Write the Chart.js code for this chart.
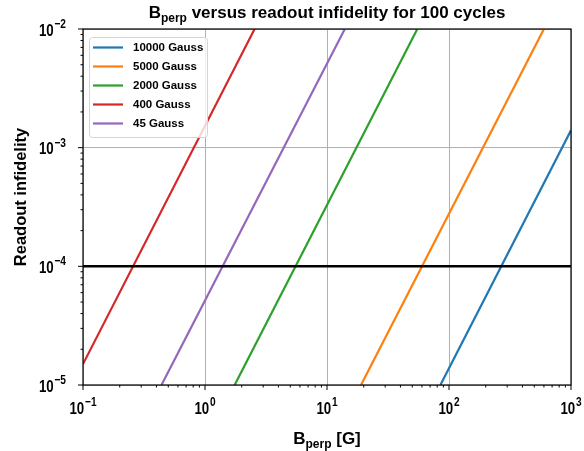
<!DOCTYPE html>
<html>
<head>
<meta charset="utf-8">
<script src="https://cdn.jsdelivr.net/npm/chart.js@4"></script>
<style>
  html, body { margin: 0; padding: 0; background: #fff; }
  #wrap { width: 584px; height: 451px; }
</style>
</head>
<body>
<div id="wrap"><canvas id="bperpChart" width="584" height="451"></canvas></div>
<script>
// field strengths and the two end points of each infidelity line
const fieldLabels = ["10000 Gauss", "5000 Gauss", "2000 Gauss", "400 Gauss", "45 Gauss"];
const bStart = [85, 19, 1.75, 0.1, 0.44];
const bEnd = [1000, 600, 55, 2.55, 14];
const infidelityStart = [1e-5, 1e-5, 1e-5, 1.5e-5, 1e-5];
const infidelityEnd = [1.4e-3, 1e-2, 1e-2, 1e-2, 1e-2];
const threshold = 1e-4;
const xRange = [0.1, 1000];
const yRange = [1e-5, 1e-2];
const xTickValues = [0.1, 1, 10, 100, 1000];
const yTickValues = [1e-5, 1e-4, 1e-3, 1e-2];

const lineColors = ["#1f77b4", "#ff7f0e", "#2ca02c", "#d62728", "#9467bd"];
const FONT = '"Liberation Sans", Arial, sans-serif';

function isDecade(v){
    const l = Math.log10(v);
    return Math.abs(l - Math.round(l)) < 1e-6;
}

// draws a run of text pieces (base, sub/superscripts) as one label
function drawParts(ctx, parts, x, y, align, sx){
    ctx.save();
    ctx.translate(x, y);
    ctx.scale(sx || 1, 1);
    let w = 0;
    parts.forEach(p=>{
        ctx.font = `bold ${p.size}px ${FONT}`;
        p.w = ctx.measureText(p.text).width + (p.gap || 0);
        w += p.w;
    });
    let cx = align === "center" ? -w/2 : align === "right" ? -w : 0;
    ctx.textAlign = "left";
    ctx.textBaseline = "alphabetic";
    ctx.fillStyle = "#000";
    parts.forEach(p=>{
        ctx.font = `bold ${p.size}px ${FONT}`;
        ctx.fillText(p.text, cx, p.dy || 0);
        cx += p.w;
    });
    ctx.restore();
}

function powerParts(v){
    const e = Math.round(Math.log10(v));
    const sup = e < 0 ? "\u2212" + Math.abs(e) : String(e);
    return [
        { text: "10", size: 17, gap: 1 },
        { text: sup, size: 13, dy: -7.5 }
    ];
}

function minorValues(min, max){
    const out = [];
    for(let e = Math.floor(Math.log10(min)); e <= Math.ceil(Math.log10(max)); e++){
        for(let m = 1; m <= 9; m++){
            const v = m * Math.pow(10, e);
            if(v >= min * 0.999 && v <= max * 1.001) out.push(v);
        }
    }
    return out;
}

const axisDecor = {
    id: "axisDecor",
    afterDatasetsDraw(chart){
        const { ctx, chartArea: a, scales: { x, y } } = chart;
        ctx.save();

        // frame
        ctx.strokeStyle = "#000";
        ctx.lineWidth = 1.2;
        ctx.strokeRect(a.left, a.top, a.right - a.left, a.bottom - a.top);

        // outward ticks
        ctx.lineWidth = 1;
        minorValues(xRange[0], xRange[1]).forEach(v=>{
            const px = x.getPixelForValue(v);
            const len = isDecade(v) ? 5 : 2.5;
            ctx.beginPath();
            ctx.moveTo(px, a.bottom);
            ctx.lineTo(px, a.bottom + len);
            ctx.stroke();
        });
        minorValues(yRange[0], yRange[1]).forEach(v=>{
            const py = y.getPixelForValue(v);
            const len = isDecade(v) ? 5 : 2.5;
            ctx.beginPath();
            ctx.moveTo(a.left, py);
            ctx.lineTo(a.left - len, py);
            ctx.stroke();
        });

        // tick labels
        xTickValues.forEach(v=>{
            drawParts(ctx, powerParts(v), x.getPixelForValue(v), a.bottom + 28.5, "center", 0.78);
        });
        yTickValues.forEach(v=>{
            drawParts(ctx, powerParts(v), a.left - 17, y.getPixelForValue(v) + 6.5, "right", 0.78);
        });

        // title
        drawParts(ctx, [
            { text: "B", size: 17 },
            { text: "perp", size: 12, dy: 4 },
            { text: " versus readout infidelity for 100 cycles", size: 17 }
        ], (a.left + a.right)/2, 18, "center", 1);

        // axis titles
        drawParts(ctx, [
            { text: "B", size: 17 },
            { text: "perp", size: 12, dy: 4 },
            { text: " [G]", size: 17 }
        ], (a.left + a.right)/2, 444, "center", 1);

        ctx.save();
        ctx.translate(26, 197);
        ctx.rotate(-Math.PI/2);
        drawParts(ctx, [{ text: "Readout infidelity", size: 16.5 }], 0, 0, "center", 1);
        ctx.restore();

        // legend
        const lx = 89, ly = 37, lw = 118, lh = 100;
        ctx.beginPath();
        ctx.roundRect(lx + 0.5, ly + 0.5, lw, lh, 3);
        ctx.fillStyle = "rgba(255,255,255,0.8)";
        ctx.fill();
        ctx.strokeStyle = "#d4d4d4";
        ctx.lineWidth = 1;
        ctx.stroke();
        fieldLabels.forEach((name, i)=>{
            const ey = 47.5 + i * 19;
            ctx.strokeStyle = lineColors[i];
            ctx.lineWidth = 2.2;
            ctx.beginPath();
            ctx.moveTo(93, ey);
            ctx.lineTo(123, ey);
            ctx.stroke();
            ctx.fillStyle = "#000";
            ctx.font = `bold 11.5px ${FONT}`;
            ctx.textAlign = "left";
            ctx.textBaseline = "middle";
            ctx.fillText(name, 133, ey + 0.5);
        });

        ctx.restore();
    }
};

const datasets = [{
    label: "threshold",
    data: [{ x: xRange[0], y: threshold }, { x: xRange[1], y: threshold }],
    borderColor: "#000",
    borderWidth: 2.5
}];
fieldLabels.forEach((name, i)=>{
    datasets.push({
        label: name,
        data: [{ x: bStart[i], y: infidelityStart[i] }, { x: bEnd[i], y: infidelityEnd[i] }],
        borderColor: lineColors[i],
        borderWidth: 2.2
    });
});

new Chart(document.getElementById("bperpChart"), {
    type: "line",
    data: { datasets },
    options: {
        responsive: false,
        animation: false,
        devicePixelRatio: 1,
        layout: { padding: { top: 29, right: 13, left: 0, bottom: 0 } },
        elements: { point: { radius: 0 }, line: { tension: 0 } },
        plugins: { legend: { display: false }, title: { display: false }, tooltip: { enabled: false } },
        scales: {
            x: {
                type: "logarithmic",
                min: xRange[0],
                max: xRange[1],
                ticks: { display: false },
                border: { display: false },
                grid: {
                    drawTicks: false,
                    lineWidth: 1,
                    color: c => isDecade(c.tick.value) ? "#b0b0b0" : "rgba(0,0,0,0)"
                },
                afterFit: s => { s.height = 66; }
            },
            y: {
                type: "logarithmic",
                min: yRange[0],
                max: yRange[1],
                ticks: { display: false },
                border: { display: false },
                grid: {
                    drawTicks: false,
                    lineWidth: 1,
                    color: c => isDecade(c.tick.value) ? "#b0b0b0" : "rgba(0,0,0,0)"
                },
                afterFit: s => { s.width = 83; }
            }
        }
    },
    plugins: [axisDecor]
});
</script>
</body>
</html>
